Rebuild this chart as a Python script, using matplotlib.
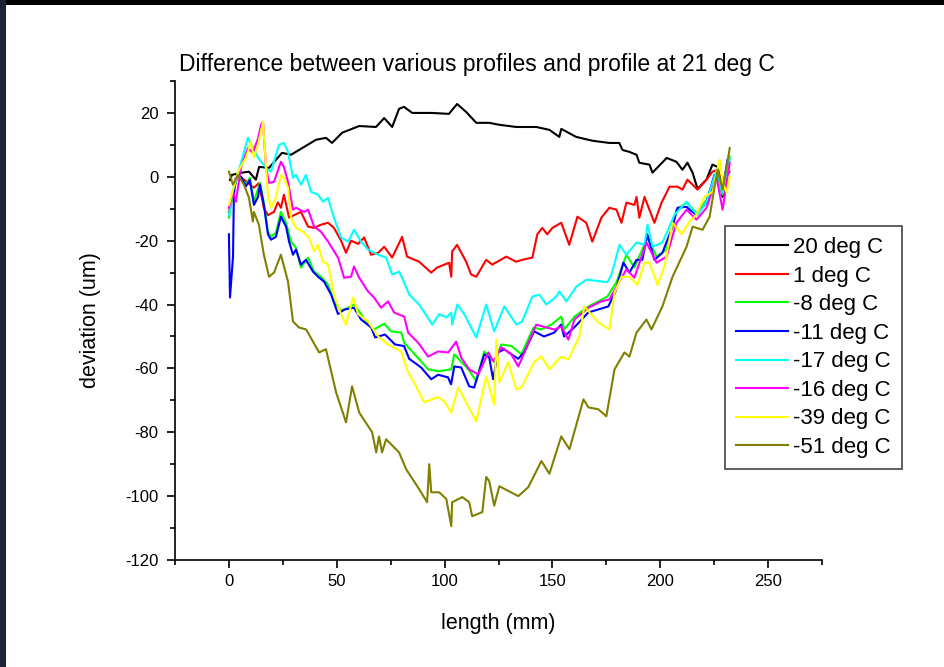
import matplotlib
matplotlib.use("Agg")
import matplotlib.pyplot as plt
from matplotlib.patches import Rectangle
from matplotlib.ticker import MultipleLocator

plt.rcParams['font.family'] = ['Liberation Sans', 'DejaVu Sans']
plt.rcParams['axes.unicode_minus'] = False

# ---- profile deviations (length in mm, deviation in um) ----
labels = ["20 deg C", "1 deg C", "-8 deg C", "-11 deg C",
          "-17 deg C", "-16 deg C", "-39 deg C", "-51 deg C"]
colors = ["#000000", "#FF0000", "#00FF00", "#0000FF",
          "#00FFFF", "#FF00FF", "#FFFF00", "#808000"]

x_20 = [0.5, 1.4, 6.0, 9.3, 12.5, 14.0, 18.6, 24.6, 28.8, 32.5, 40.4, 45.0, 47.8, 52.5, 60.4, 68.2,
        72.0, 75.7, 78.9, 81.2, 85.0, 94.2, 102.0, 105.8, 110.0, 114.7, 120.7, 125.3, 133.2, 142.5,
        148.6, 153.2, 154.1, 161.0, 168.5, 176.4, 181.0, 182.5, 185.7, 189.0, 190.3, 195.0, 196.4,
        203.0, 207.5, 210.3, 212.6, 215.0, 217.3, 221.4, 224.2, 226.6, 228.9, 231.2]
y_20 = [-1.0, 0.6, 1.3, 1.6, -0.9, 3.1, 2.8, 7.5, 6.9, 8.4, 11.6, 12.2, 10.6, 13.8, 15.9, 15.6,
        18.4, 15.6, 21.3, 21.9, 20.0, 20.0, 19.7, 22.8, 20.3, 16.9, 16.9, 16.3, 15.6, 15.6,
        14.7, 12.5, 15.0, 12.5, 11.3, 10.6, 10.6, 8.4, 7.8, 6.9, 4.4, 3.8, 1.3,
        5.9, 4.7, 2.2, 4.4, 1.3, -3.8, -0.9, 3.8, 3.1, -6.3, 1.5]

x_1 = [0.0, 1.9, 4.2, 11.6, 13.9, 16.2, 18.1, 20.9, 22.7, 24.1, 25.5, 27.9, 30.2, 33.4, 36.7, 39.5,
       42.7, 46.0, 48.7, 52.0, 54.3, 56.6, 59.9, 62.7, 65.9, 69.2, 72.0, 75.7, 80.3, 82.6, 88.2,
       93.8, 96.6, 102.1, 103.1, 103.5, 105.8, 110.0, 112.3, 114.7, 119.3, 122.1, 128.6, 133.2,
       136.0, 140.7, 143.0, 145.3, 147.6, 150.0, 154.1, 157.8, 161.6, 165.7, 168.5, 172.7, 176.4,
       179.7, 182.0, 184.3, 188.0, 189.0, 190.3, 192.7, 197.3, 200.6, 204.3, 208.0, 210.3, 212.6,
       217.3, 221.4, 224.2, 226.6, 228.9, 232.1]
y_1 = [-11.0, -4.7, 0.6, -3.4, -2.0, -9.7, -12.0, -11.0, -8.0, -9.7, -5.6, -12.8, -12.0, -11.0,
       -15.6, -16.0, -15.0, -14.4, -16.0, -20.0, -23.8, -20.0, -21.0, -19.0, -24.4, -23.8, -21.9,
       -25.3, -18.8, -25.0, -26.6, -30.0, -28.4, -26.9, -31.3, -23.4, -21.3, -26.6, -30.6, -31.3,
       -26.0, -27.5, -25.0, -26.6, -26.0, -25.3, -18.0, -16.0, -18.0, -16.0, -14.4, -21.3, -12.5,
       -14.4, -20.3, -12.8, -9.7, -10.3, -14.4, -8.1, -8.8, -6.3, -12.8, -6.3, -14.4, -8.1, -3.1,
       -3.1, -4.0, -0.9, -4.0, -0.9, 1.6, 2.2, -2.0, 1.6]

x_m8 = [0.0, 1.9, 4.2, 7.9, 9.7, 11.6, 14.4, 16.2, 18.1, 19.5, 21.8, 24.1, 26.5, 28.8, 31.1, 33.4,
        36.7, 39.5, 42.7, 46.0, 48.7, 52.0, 55.3, 58.0, 61.3, 64.5, 67.3, 72.0, 75.2, 79.9, 81.3,
        89.1, 92.4, 97.0, 103.1, 104.5, 111.0, 114.7, 118.4, 123.1, 126.3, 131.0, 135.6, 141.2,
        144.9, 149.5, 154.1, 155.5, 160.2, 166.7, 175.5, 179.7, 184.3, 188.0, 194.1, 198.3, 202.9,
        207.5, 212.2, 216.8, 221.5, 226.1, 228.9, 232.2]
y_m8 = [-12.8, -4.7, 0.6, -2.5, -0.3, -7.8, -1.9, -8.1, -17.2, -18.8, -17.5, -11.0, -14.4, -20.3,
        -22.2, -28.4, -25.3, -29.7, -31.3, -33.8, -39.0, -42.0, -41.0, -40.0, -43.0, -46.3, -47.8,
        -46.0, -48.4, -48.8, -52.0, -57.8, -60.3, -60.9, -60.3, -55.6, -60.3, -64.0, -54.7, -58.0,
        -52.5, -53.0, -55.6, -47.2, -47.8, -46.3, -43.8, -47.8, -43.8, -40.6, -37.5, -33.0, -24.4,
        -28.4, -19.0, -25.0, -22.8, -10.3, -8.1, -11.3, -7.2, 1.3, -5.6, 6.3]

x_m11 = [0.0, 0.5, 1.9, 2.3, 3.2, 5.6, 7.9, 9.7, 11.6, 13.5, 14.4, 16.2, 18.1, 19.5, 21.8, 24.1,
         26.5, 27.9, 29.7, 31.1, 33.4, 35.7, 39.0, 41.3, 44.1, 47.4, 50.6, 53.4, 58.0, 61.3, 66.0,
         67.8, 72.4, 77.0, 81.2, 83.6, 89.1, 93.8, 97.0, 101.6, 103.0, 104.5, 107.7, 111.4, 113.7,
         118.4, 120.7, 122.5, 124.8, 127.6, 134.1, 136.9, 141.5, 146.1, 150.8, 154.0, 155.4, 160.1,
         166.6, 175.9, 179.2, 182.9, 185.7, 189.0, 191.7, 194.0, 197.3, 201.0, 205.7, 208.0, 212.2,
         213.6, 216.8, 221.4, 225.1, 227.5, 228.9, 231.2]
y_m11 = [-18.0, -37.8, -25.0, -5.6, -0.3, 0.0, -3.0, -1.0, -8.8, -6.3, -2.5, -8.8, -18.0, -19.7,
         -18.8, -12.5, -15.6, -20.3, -24.4, -22.8, -27.5, -26.0, -29.7, -31.3, -32.8, -36.9, -43.0,
         -41.6, -41.0, -44.7, -47.2, -50.3, -49.4, -52.5, -53.0, -57.0, -59.7, -63.4, -62.0, -62.8,
         -65.0, -59.4, -59.7, -65.6, -66.0, -55.6, -56.6, -63.4, -55.0, -54.0, -57.0, -55.0, -48.4,
         -50.0, -48.8, -46.3, -50.0, -47.2, -42.5, -40.6, -36.0, -26.9, -30.0, -26.0, -26.0, -18.0,
         -26.0, -23.8, -15.6, -9.7, -9.4, -10.3, -11.9, -8.1, 0.6, 0.0, -4.0, 5.3]

x_m17 = [0.0, 1.9, 4.2, 8.8, 10.2, 11.6, 13.5, 18.1, 19.5, 23.2, 25.5, 27.4, 29.7, 31.1, 33.4,
         35.7, 38.1, 41.3, 43.6, 45.9, 48.7, 52.0, 55.3, 58.0, 61.3, 64.5, 69.2, 72.9, 75.7, 78.9,
         80.3, 83.6, 88.2, 94.3, 97.5, 100.8, 103.1, 103.5, 105.9, 109.1, 114.7, 119.3, 123.0,
         127.7, 133.3, 136.0, 140.7, 143.9, 147.2, 151.8, 153.2, 156.5, 161.1, 165.8, 175.5, 177.4,
         181.1, 184.3, 189.0, 192.7, 194.1, 196.4, 201.0, 206.6, 212.2, 215.0, 217.3, 221.5, 226.1,
         228.9, 232.2]
y_m17 = [-12.0, -4.0, 1.0, 12.2, 10.0, 9.1, 5.9, 2.2, 1.6, 10.0, 10.6, 7.8, -0.3, 0.6, -2.5,
         0.6, -4.7, -5.6, -7.8, -6.6, -12.8, -19.0, -20.3, -16.6, -20.3, -22.8, -24.4, -25.3, -30.6,
         -29.7, -31.6, -36.9, -40.0, -46.3, -43.0, -44.0, -42.5, -46.3, -40.0, -43.0, -50.3, -40.0,
         -48.4, -40.6, -46.3, -45.3, -37.5, -36.9, -40.0, -37.5, -35.9, -39.0, -34.4, -32.2, -33.0,
         -30.6, -21.3, -24.4, -20.6, -21.3, -15.0, -21.9, -20.6, -11.9, -7.8, -10.3, -11.9, -7.8,
         2.2, -5.0, 5.3]

x_m16 = [0.0, 1.9, 3.2, 5.6, 8.8, 11.1, 13.5, 14.9, 15.8, 17.2, 18.6, 20.9, 24.1, 25.5, 27.4,
         29.7, 31.1, 34.8, 36.7, 39.5, 42.7, 46.0, 50.6, 53.4, 56.6, 58.0, 60.4, 64.5, 67.3, 70.6,
         73.8, 76.6, 81.3, 83.1, 87.8, 92.4, 97.0, 101.7, 105.4, 107.7, 111.4, 115.6, 120.3, 122.6,
         126.3, 130.9, 134.2, 137.0, 142.5, 147.2, 150.9, 154.1, 157.4, 160.2, 166.7, 172.7, 176.4,
         184.3, 188.0, 193.6, 198.3, 202.9, 207.5, 212.2, 216.8, 221.5, 226.1, 228.9, 232.2]
y_m16 = [-9.7, -4.7, -7.8, 2.8, 9.0, 7.5, 12.0, 16.3, 17.2, 2.8, -1.9, -1.6, 4.7, 3.1, -1.6,
         -10.3, -9.7, -11.0, -10.3, -15.6, -17.2, -20.3, -25.3, -31.6, -31.3, -28.1, -31.6, -35.9,
         -37.8, -41.0, -39.0, -42.5, -43.8, -48.8, -52.0, -56.3, -54.7, -55.0, -51.6, -56.6, -60.3,
         -61.9, -55.0, -57.8, -53.4, -55.6, -59.4, -55.0, -46.3, -47.2, -47.8, -46.9, -51.0, -44.7,
         -41.0, -39.0, -38.4, -29.0, -31.6, -20.6, -26.9, -25.0, -14.4, -10.3, -13.4, -9.7, 0.0,
         -10.3, 4.4]

x_m39 = [0.0, 4.2, 7.9, 10.2, 11.6, 13.5, 15.8, 18.1, 19.5, 21.8, 24.1, 25.5, 27.4, 28.8, 31.1,
         34.4, 37.1, 39.5, 41.3, 43.6, 46.0, 48.7, 52.0, 54.3, 57.6, 59.9, 64.5, 69.2, 73.8, 79.9,
         83.1, 85.9, 90.5, 97.0, 99.8, 103.1, 106.3, 111.0, 114.7, 119.3, 123.0, 124.0, 125.4,
         129.5, 133.3, 135.6, 141.6, 144.9, 148.6, 154.1, 157.4, 162.5, 164.8, 171.3, 176.4, 178.8,
         182.0, 185.7, 189.4, 192.7, 195.0, 198.7, 202.0, 205.7, 209.9, 213.6, 216.8, 220.5, 224.3,
         227.5, 228.9, 230.8, 232.2]
y_m39 = [-8.8, 1.6, 6.0, 11.0, 6.0, 10.0, 17.2, -5.6, -9.7, -6.6, 0.6, -0.3, -3.4, -12.8, -16.0,
         -17.2, -19.0, -23.4, -21.3, -26.6, -27.5, -36.9, -43.0, -46.3, -37.8, -43.0, -45.3, -50.0,
         -52.5, -54.7, -61.3, -64.4, -70.6, -69.0, -70.3, -73.8, -66.0, -71.9, -76.6, -62.5, -71.3,
         -51.0, -64.4, -58.0, -66.6, -66.0, -58.0, -56.3, -60.3, -56.3, -57.2, -50.0, -40.6, -45.6,
         -47.8, -36.3, -31.3, -31.3, -33.8, -26.9, -26.9, -33.8, -28.0, -14.4, -18.0, -14.0, -11.9,
         -6.3, -4.7, 5.3, -1.6, -5.0, 0.0]

x_m51 = [0.0, 1.9, 4.2, 7.0, 9.3, 11.1, 11.6, 13.9, 16.2, 18.6, 20.9, 24.1, 27.4, 29.7, 32.5,
         35.8, 41.8, 45.0, 49.7, 54.3, 57.1, 60.4, 66.4, 68.3, 69.6, 71.0, 72.9, 78.9, 82.2, 88.2,
         91.9, 92.9, 93.8, 97.5, 100.8, 103.1, 103.5, 108.2, 111.4, 112.8, 117.5, 119.3, 120.7,
         123.0, 125.4, 134.2, 138.8, 144.9, 148.6, 154.1, 157.9, 164.4, 166.7, 171.3, 175.0, 178.8,
         183.4, 185.7, 189.0, 193.6, 195.9, 201.0, 205.7, 212.2, 215.0, 219.6, 222.9, 225.2, 226.6,
         228.9, 230.8, 232.2]
y_m51 = [1.6, -2.5, 0.6, -2.5, -6.6, -14.0, -11.0, -15.0, -24.4, -31.3, -30.0, -24.4, -32.8,
         -45.3, -47.2, -47.8, -55.0, -54.0, -67.5, -76.9, -65.6, -73.8, -80.0, -86.3, -81.3, -86.3,
         -82.2, -86.3, -91.6, -97.8, -101.9, -90.0, -98.8, -98.8, -100.9, -109.4, -101.9, -100.3,
         -101.9, -106.3, -105.0, -94.0, -95.3, -103.0, -96.9, -100.0, -97.2, -89.0, -93.0, -81.3,
         -85.3, -69.7, -72.2, -72.8, -75.0, -60.3, -55.0, -56.3, -48.8, -44.7, -47.8, -40.6, -31.3,
         -21.9, -15.6, -16.6, -12.5, -3.1, 2.2, -4.0, 3.1, 9.0]

series_x = [x_20, x_1, x_m8, x_m11, x_m17, x_m16, x_m39, x_m51]
series_y = [y_20, y_1, y_m8, y_m11, y_m17, y_m16, y_m39, y_m51]

x_ticks = [0, 50, 100, 150, 200, 250]
y_ticks = [20, 0, -20, -40, -60, -80, -100, -120]

W, H = 944, 667
fig = plt.figure(figsize=(W / 100, H / 100), dpi=100)
fig.patch.set_facecolor("white")

# dark frame along the top and left edges
fig.add_artist(Rectangle((0, 1 - 5 / H), 1, 5 / H, transform=fig.transFigure,
                         facecolor="#000000", edgecolor="none", zorder=0))
fig.add_artist(Rectangle((0, 0), 6 / W, 1, transform=fig.transFigure,
                         facecolor="#1c2238", edgecolor="none", zorder=0))

ax = fig.add_axes([175 / W, 1 - 560 / H, (822 - 175) / W, (560 - 81) / H])
for xs, ys, c, lab in zip(series_x, series_y, colors, labels):
    ax.plot(xs, ys, color=c, lw=1.5, label=lab)

ax.set_xlim(-25, 275)
ax.set_ylim(-120, 30)
ax.set_xticks(x_ticks)
ax.set_yticks(y_ticks)
ax.xaxis.set_minor_locator(MultipleLocator(25))
ax.yaxis.set_minor_locator(MultipleLocator(10))
ax.spines["top"].set_visible(False)
ax.spines["right"].set_visible(False)
for s in ("left", "bottom"):
    ax.spines[s].set_linewidth(1.2)
ax.tick_params(which="major", direction="out", length=6, width=1.2, labelsize=12)
ax.tick_params(axis="y", which="major", pad=6)
ax.tick_params(axis="x", which="major", pad=4)
ax.tick_params(which="minor", direction="out", length=3.5, width=1.2)

ax.set_xlabel("length (mm)", fontsize=15.5, labelpad=17)
ax.set_ylabel("deviation (um)", fontsize=15.5, labelpad=17)
fig.text(477 / W, 1 - 65 / H, "Difference between various profiles and profile at 21 deg C",
         ha="center", va="center", fontsize=16.5)

leg = ax.legend(loc="upper left", bbox_to_anchor=(725 / W, 1 - 226 / H),
                bbox_transform=fig.transFigure, borderaxespad=0, fontsize=16,
                handlelength=2.34, handletextpad=0.22, labelspacing=0.34,
                borderpad=0.5, fancybox=False, framealpha=1)
leg.get_frame().set_edgecolor("#444444")
leg.get_frame().set_linewidth(1.2)

fig.savefig("out.png", dpi=100)
